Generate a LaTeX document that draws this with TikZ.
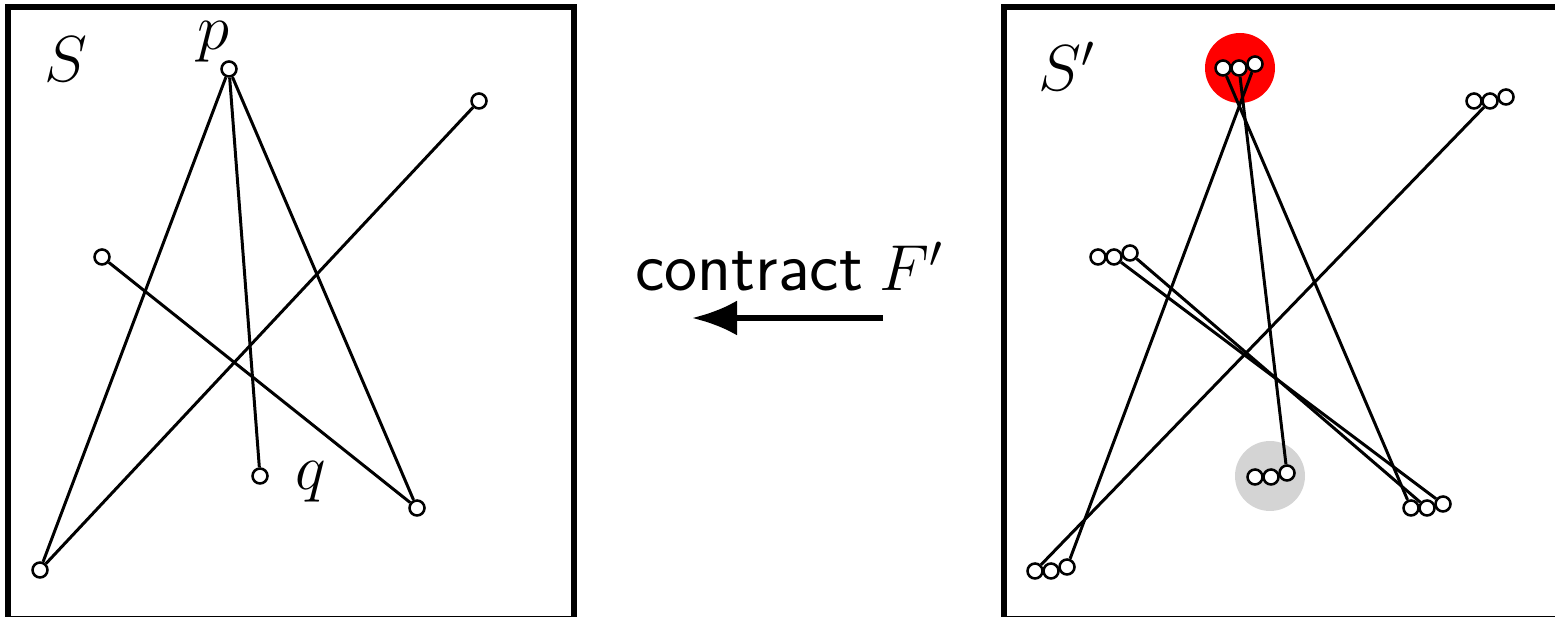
\RequirePackage{fix-cm}
\documentclass[tikz,border=0pt]{standalone}
\usepackage{amsmath,amssymb}
\usepackage{xcolor}
\usepackage{tikz}
\usetikzlibrary{arrows.meta,positioning}

\begin{document}
\begin{tikzpicture}[x=0.02cm,y=-0.02cm,
  every node/.style={font=\fontsize{37}{44}\selectfont},
  vtx/.style={circle, draw, fill=white, line width=1.45pt, minimum size=0.3cm, inner sep=0pt},
  link/.style={line width=1.7pt}]
\useasboundingbox (0,0) rectangle (1555,617);
% left picture S
\draw[line width=3.1pt] (8,7) rectangle (574,619);
\node[anchor=base west] (lS) at (38,82) {$S$};
\node[anchor=base west] (lp) at (191,50) {$p$};
\node[anchor=base west] (lq) at (289,490) {$q$};
\node[vtx] (p) at (229,69) {};
\node[vtx] (a) at (479,101) {};
\node[vtx] (b) at (102,257) {};
\node[vtx] (q) at (260,476) {};
\node[vtx] (c) at (417,508) {};
\node[vtx] (d) at (40,570) {};
\draw[link] (p) -- (d);
\draw[link] (p) -- (q);
\draw[link] (p) -- (c);
\draw[link] (a) -- (d);
\draw[link] (b) -- (c);
% arrow
\node[anchor=base west] (lbl) at (629,291) {{\fontsize{40}{48}\selectfont\textsf{contract}}\hspace{-2pt} $F'$};
\coordinate (from) at (883,318);
\coordinate (to) at (692,318);
\draw[line width=3.4pt, -{Latex[length=0.9cm,width=0.7cm]}] (from) -- (to);
% right picture S'
\draw[line width=3.1pt] (1004,7) rectangle (1565,619);
\node[anchor=base west] (lS2) at (1032,91) {$S'$};
\fill[red] (1240,68) circle (0.7cm);
\fill[black!17] (1270,476) circle (0.7cm);
\foreach \v/\x/\y in {p/1223/68, a/1474/101, b/1098/257, q/1255/477, c/1411/508, d/1035/571}{
  \node[vtx] (r\v1) at (\x,\y) {};
  \node[vtx] (r\v2) at (\x+16,\y) {};
  \node[vtx] (r\v3) at (\x+32,\y-4) {};
}
\draw[link] (rp1) -- (rc1);
\draw[link] (rp2) -- (rq3);
\draw[link] (rp3) -- (rd3);
\draw[link] (ra2) -- (rd1);
\draw[link] (rb2) -- (rc3);
\draw[link] (rb3) -- (rc2);
\end{tikzpicture}
\end{document}
